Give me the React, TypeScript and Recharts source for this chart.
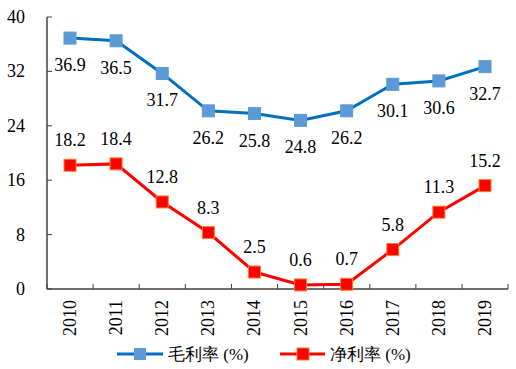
import React from "react";
import { LineChart, Line, XAxis, YAxis, Legend, LabelList } from "recharts";

const years = ["2010", "2011", "2012", "2013", "2014", "2015", "2016", "2017", "2018", "2019"];
const grossMargin = [36.9, 36.5, 31.7, 26.2, 25.8, 24.8, 26.2, 30.1, 30.6, 32.7];
const netMargin = [18.2, 18.4, 12.8, 8.3, 2.5, 0.6, 0.7, 5.8, 11.3, 15.2];
const yTicks = [0, 8, 16, 24, 32, 40];
const seriesNames = ["毛利率 (%)", "净利率 (%)"];

const data = years.map((y, i) => ({ year: y, gross: grossMargin[i], net: netMargin[i] }));

const FONT = "Liberation Serif";
const AXIS = "#404040";
const BLUE = "#0070C0";
const BLUE_M = "#5B9BD5";
const RED = "#FF0000";
const RED_S = "#FF7F27";
const HALF_BAND = 23;

const SquareDot = (fill: string, stroke: string) => (props: any) => {
  const { cx, cy, index } = props;
  if (cx == null || cy == null) return null;
  return <rect key={index} x={cx - 6} y={cy - 6} width={12} height={12} fill={fill} stroke={stroke} strokeWidth={1} />;
};

const YTick = (props: any) => {
  const { x, y, payload } = props;
  return (
    <g>
      <line x1={x} y1={y} x2={x + 5} y2={y} stroke={AXIS} strokeWidth={1} />
      <text x={x - 22} y={y} dy="0.33em" textAnchor="end" fontFamily={FONT} fontSize={18} fill="#000">
        {payload.value}
      </text>
    </g>
  );
};

const XTick = (props: any) => {
  const { x, y, payload, index } = props;
  const last = index === years.length - 1;
  return (
    <g>
      <line x1={x - HALF_BAND} y1={y} x2={x - HALF_BAND} y2={y - 5} stroke={AXIS} strokeWidth={1} />
      {last && <line x1={x + HALF_BAND} y1={y} x2={x + HALF_BAND} y2={y - 5} stroke={AXIS} strokeWidth={1} />}
      <text
        x={0}
        y={0}
        dy="0.33em"
        transform={`translate(${x},${y + 11}) rotate(-90)`}
        textAnchor="end"
        fontFamily={FONT}
        fontSize={18}
        fill="#000"
      >
        {payload.value}
      </text>
    </g>
  );
};

const makeLabel = (dy: number) => (props: any) => {
  const { x, y, value, index } = props;
  return (
    <text key={index} x={x} y={y + dy} dy="0.33em" textAnchor="middle" fontFamily={FONT} fontSize={18} fill="#000">
      {value}
    </text>
  );
};

const LegendContent = () => (
  <svg width={516} height={30} style={{ display: "block" }}>
    <line x1={117} y1={15} x2={163} y2={15} stroke={BLUE} strokeWidth={3} />
    <rect x={134} y={9} width={12} height={12} fill={BLUE_M} />
    <text x={168} y={21} fontFamily={FONT} fontSize={17} fill="#000">
      {seriesNames[0]}
    </text>
    <line x1={280} y1={15} x2={325} y2={15} stroke={RED} strokeWidth={3} />
    <rect x={297} y={9} width={12} height={12} fill={RED} stroke={RED_S} strokeWidth={1} />
    <text x={330} y={21} fontFamily={FONT} fontSize={17} fill="#000">
      {seriesNames[1]}
    </text>
  </svg>
);

export default function App() {
  return (
    <div style={{ position: "absolute", left: 0, top: 0, width: 516, height: 369, background: "#fff" }}>
      <LineChart width={516} height={369} data={data} margin={{ top: 17, right: 8, bottom: 0, left: 0 }}>
        <XAxis
          dataKey="year"
          interval={0}
          height={50}
          padding={{ left: HALF_BAND, right: HALF_BAND }}
          tickSize={0}
          tickMargin={0}
          tickLine={false}
          axisLine={{ stroke: AXIS, strokeWidth: 1.5 }}
          tick={<XTick />}
        />
        <YAxis
          domain={[0, 40]}
          ticks={yTicks}
          width={47}
          tickSize={0}
          tickMargin={0}
          tickLine={false}
          axisLine={{ stroke: AXIS, strokeWidth: 1.5 }}
          tick={<YTick />}
          interval={0}
        />
        <Legend verticalAlign="bottom" content={<LegendContent />} wrapperStyle={{ left: 0, width: 516, height: 30 }} />
        <Line
          dataKey="gross"
          name={seriesNames[0]}
          stroke={BLUE}
          strokeWidth={3}
          dot={SquareDot(BLUE_M, BLUE_M)}
          activeDot={false}
          isAnimationActive={false}
        >
          <LabelList dataKey="gross" content={makeLabel(27)} />
        </Line>
        <Line
          dataKey="net"
          name={seriesNames[1]}
          stroke={RED}
          strokeWidth={3}
          dot={SquareDot(RED, RED_S)}
          activeDot={false}
          isAnimationActive={false}
        >
          <LabelList dataKey="net" content={makeLabel(-25)} />
        </Line>
      </LineChart>
    </div>
  );
}
